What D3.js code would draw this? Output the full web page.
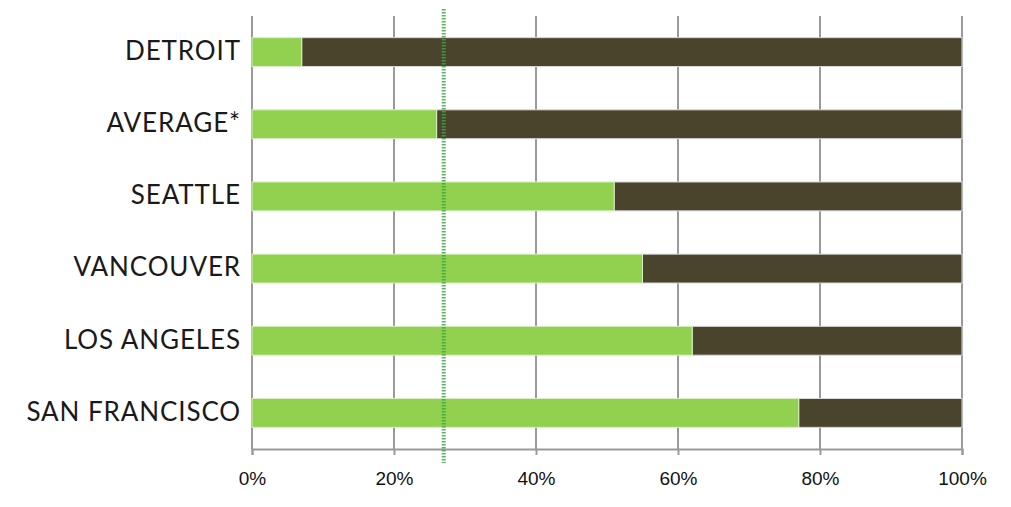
<!DOCTYPE html>
<html>
<head>
<meta charset="utf-8">
<script src="https://cdn.jsdelivr.net/npm/d3@7"></script>
<style>
  html, body { margin: 0; padding: 0; background: #fff; }
</style>
</head>
<body>
<svg id="chart" width="1011" height="507"></svg>
<script>
// Share of each city (green) vs. remainder (dark), in percent
const cities = ["DETROIT", "AVERAGE*", "SEATTLE", "VANCOUVER", "LOS ANGELES", "SAN FRANCISCO"];
const shareValues = [7, 26, 51, 55, 62, 77];
const referenceLine = 27;
const tickValues = [0, 20, 40, 60, 80, 100];

const svg = d3.select("#chart");
const margin = { top: 16, right: 49, bottom: 58, left: 252 };
const width = 1011 - margin.left - margin.right;
const height = 507 - margin.top - margin.bottom;

const x = d3.scaleLinear().domain([0, 100]).range([0, width]);
const y = d3.scaleBand().domain(cities).range([0, height]).paddingInner(0.6).paddingOuter(0.3);

const g = svg.append("g").attr("transform", `translate(${margin.left},${margin.top})`);

// vertical gridlines
g.selectAll(".grid").data(tickValues).enter().append("line")
  .attr("x1", d => x(d)).attr("x2", d => x(d))
  .attr("y1", 0).attr("y2", height)
  .attr("stroke", "#9a9a9a").attr("stroke-width", 2);

// bottom axis
const xAxis = d3.axisBottom(x).tickValues(tickValues).tickFormat(d => d + "%").tickSize(6).tickPadding(17);
const ax = g.append("g").attr("transform", `translate(0,${height})`).call(xAxis);
ax.select(".domain").attr("stroke", "#9a9a9a").attr("stroke-width", 2);
ax.selectAll(".tick line").attr("stroke", "#9a9a9a").attr("stroke-width", 2);
ax.selectAll(".tick text").attr("font-family", "'Liberation Sans', Arial, sans-serif")
  .attr("font-size", 19).attr("fill", "#111");

// remainder bars (dark)
g.selectAll(".rest").data(cities).enter().append("rect")
  .attr("x", (d, i) => x(shareValues[i]))
  .attr("width", (d, i) => x(100) - x(shareValues[i]))
  .attr("y", d => y(d)).attr("height", y.bandwidth())
  .attr("fill", "#4b442d").attr("stroke", "#d8d8d8").attr("stroke-width", 1);

// share bars (green)
g.selectAll(".share").data(cities).enter().append("rect")
  .attr("x", x(0))
  .attr("width", (d, i) => x(shareValues[i]) - x(0))
  .attr("y", d => y(d)).attr("height", y.bandwidth())
  .attr("fill", "#92d050").attr("stroke", "#d8efc4").attr("stroke-width", 1);

// category labels
g.selectAll(".cat").data(cities).enter().append("text")
  .attr("x", -11).attr("y", d => y(d) + y.bandwidth() / 2)
  .attr("dy", "0.3em").attr("text-anchor", "end")
  .attr("font-family", "Lato, 'Noto Sans', sans-serif").attr("font-size", 26)
  .attr("letter-spacing", "0.9px")
  .attr("fill", "#1a1a1a")
  .text(d => d);

// dotted reference line
g.append("line")
  .attr("x1", x(referenceLine)).attr("x2", x(referenceLine))
  .attr("y1", -7).attr("y2", height + 14)
  .attr("stroke", "#3aa845").attr("stroke-width", 4)
  .attr("stroke-dasharray", "1.5,1.5").attr("opacity", 0.85);
</script>
</body>
</html>
